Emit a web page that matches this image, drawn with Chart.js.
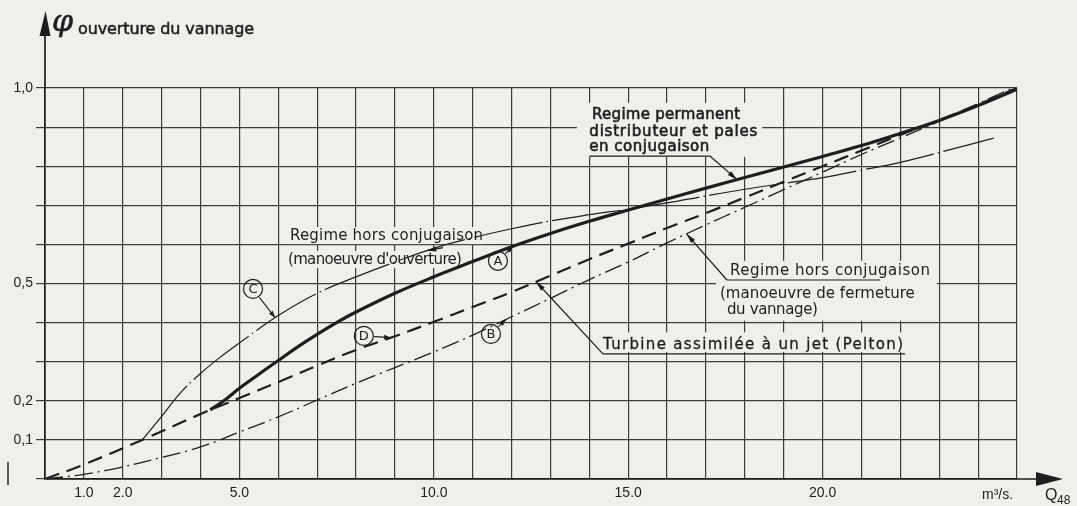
<!DOCTYPE html>
<html>
<head>
<meta charset="utf-8">
<script src="https://cdn.jsdelivr.net/npm/chart.js@4/dist/chart.umd.min.js"></script>
<style>
  html, body { margin: 0; padding: 0; background: #efefec; }
  #wrap { width: 1077px; height: 506px; }
</style>
</head>
<body>
<div id="wrap"><canvas id="c" width="1077" height="506"></canvas></div>
<script>
// Débit Q48 (m³/s) et ouverture du vannage φ pour chaque régime
const qPermanent   = [4.25, 4.6, 5.0, 5.5, 6.0, 6.5, 7.0, 7.5, 8.0, 9.0, 10.0, 11.0, 12.0, 13.0, 14.0, 15.0, 16.0, 17.0, 18.0, 19.0, 20.0, 21.0, 22.0, 23.0, 24.0, 25.0];
const phiPermanent = [0.177, 0.2, 0.232, 0.268, 0.303, 0.338, 0.37, 0.4, 0.427, 0.475, 0.517, 0.556, 0.594, 0.628, 0.659, 0.688, 0.716, 0.744, 0.771, 0.798, 0.825, 0.853, 0.884, 0.917, 0.955, 0.997];

const qOuverture   = [2.5, 3.0, 3.5, 4.0, 4.5, 5.0, 6.0, 7.0, 8.0, 9.0, 10.0, 11.0, 12.0, 13.0, 14.0, 15.0, 16.0, 17.0, 18.0, 19.0, 20.0, 21.0, 22.0, 23.0, 24.4];
const phiOuverture = [0.1, 0.16, 0.222, 0.27, 0.311, 0.348, 0.418, 0.475, 0.517, 0.555, 0.59, 0.617, 0.64, 0.66, 0.676, 0.69, 0.706, 0.724, 0.741, 0.756, 0.771, 0.79, 0.81, 0.835, 0.872];

const qFermeture   = [0, 1, 2, 3, 4, 5, 6, 7, 8, 9, 10, 11, 12, 13, 14, 15, 16, 17, 18, 19, 20, 21, 22, 23, 24, 25];
const phiFermeture = [0, 0.012, 0.031, 0.055, 0.082, 0.12, 0.159, 0.202, 0.245, 0.285, 0.325, 0.368, 0.415, 0.462, 0.51, 0.555, 0.604, 0.65, 0.695, 0.74, 0.785, 0.83, 0.872, 0.915, 0.96, 1.005];

const qPelton   = [0, 1, 2.5, 4, 5, 6, 7, 8, 9, 10, 11, 12, 13, 14, 15, 16, 17, 18, 19, 20, 21, 22, 23, 24, 25];
const phiPelton = [0, 0.037, 0.1, 0.166, 0.207, 0.248, 0.29, 0.33, 0.365, 0.402, 0.44, 0.478, 0.52, 0.562, 0.602, 0.642, 0.68, 0.72, 0.76, 0.8, 0.84, 0.88, 0.918, 0.958, 1.0];

const xTickValues = [1, 2, 5, 10, 15, 20];
const xTickLabels = ['1.0', '2.0', '5.0', '10.0', '15.0', '20.0'];
const yTickValues = [0.1, 0.2, 0.5, 1.0];
const yTickLabels = ['0,1', '0,2', '0,5', '1,0'];

const PAPER = '#efefec';
const INK = '#1e1e1e';
const GRID = '#3c3c3c';
const TXT = "'DejaVu Sans', sans-serif";

function points(xs, ys) { return xs.map((x, i) => ({ x: x, y: ys[i] })); }
function interp(xs, ys, x) {
  for (let i = 0; i < xs.length - 1; i++) {
    if (x >= xs[i] && x <= xs[i + 1]) {
      const t = (x - xs[i]) / (xs[i + 1] - xs[i]);
      return ys[i] + t * (ys[i + 1] - ys[i]);
    }
  }
  return ys[ys.length - 1];
}
function tickLabel(values, labels, v) {
  const i = values.findIndex(t => Math.abs(t - v) < 1e-6);
  return i >= 0 ? labels[i] : '';
}

// Annotation layout, in axis units (Q, φ)
const notes = {
  permanent: { lines: ['Regime permanent', 'distributeur et pales', 'en conjugaison'],
               x: [14.07, 14.0, 14.0], y: [0.921, 0.877, 0.839], w: [148, 168, 120],
               underline: { y: 0.826, x0: 14.0, x1: 17.1 }, tip: 17.8,
               box: [13.68, 0.962, 18.45, 0.824], font: '15px ' + TXT, heavy: 0.6 },
  ouverture: { lines: ['Regime hors conjugaison', "(manoeuvre d'ouverture)"],
               x: [6.3, 6.25], y: [0.611, 0.55], w: [193, 174], font: '15px ' + TXT, heavy: 0 },
  fermeture: { lines: ['Regime hors conjugaison', '(manoeuvre de fermeture', 'du vannage)'],
               x: [17.62, 17.36, 17.54], y: [0.522, 0.463, 0.422], w: [200, 195, 91],
               underline: { y: 0.509, x0: 17.54, x1: 21.48 }, tip: 16.5,
               box: [17.26, 0.558, 22.94, 0.405], font: '15px ' + TXT, heavy: 0 },
  pelton:    { lines: ['Turbine assimilée à un jet (Pelton)'],
               x: [14.35], y: [0.332], w: [300],
               underline: { y: 0.32, x0: 14.35, x1: 22.12 }, tip: 12.63,
               box: [14.25, 0.375, 22.2, 0.325], font: '15px ' + TXT, heavy: 0.3 }
};
const markers = [
  { t: 'A', cx: 11.65, cy: 0.558, q: qPermanent, p: phiPermanent, tip: 12.04 },
  { t: 'B', cx: 11.47, cy: 0.371, q: qFermeture, p: phiFermeture, tip: 11.86 },
  { t: 'C', cx: 5.35,  cy: 0.486, q: qOuverture, p: phiOuverture, tip: 5.92 },
  { t: 'D', cx: 8.2,   cy: 0.366, q: qPelton,    p: phiPelton,    tip: 8.9 }
];

function fitText(ctx, str, x, y, width, heavy) {
  ctx.letterSpacing = '0px';
  const w = ctx.measureText(str).width;
  const n = Array.from(str).length;
  const sp = n > 1 ? (width - w) / (n - 1) : 0;
  ctx.letterSpacing = sp.toFixed(2) + 'px';
  ctx.fillText(str, x, y);
  if (heavy) {
    ctx.lineWidth = heavy;
    ctx.strokeText(str, x, y);
  }
  ctx.letterSpacing = '0px';
}
function arrowHead(ctx, x0, y0, x1, y1, len, half) {
  const a = Math.atan2(y1 - y0, x1 - x0);
  ctx.beginPath();
  ctx.moveTo(x1, y1);
  ctx.lineTo(x1 - len * Math.cos(a) + half * Math.sin(a), y1 - len * Math.sin(a) - half * Math.cos(a));
  ctx.lineTo(x1 - len * Math.cos(a) - half * Math.sin(a), y1 - len * Math.sin(a) + half * Math.cos(a));
  ctx.closePath();
  ctx.fill();
}
function leader(ctx, x0, y0, x1, y1, len, half) {
  ctx.beginPath();
  ctx.moveTo(x0, y0);
  ctx.lineTo(x1, y1);
  ctx.stroke();
  arrowHead(ctx, x0, y0, x1, y1, len, half);
}

const drawing = {
  id: 'drawing',
  beforeDraw(chart) {
    const ctx = chart.ctx;
    ctx.save();
    ctx.fillStyle = PAPER;
    ctx.fillRect(0, 0, chart.width, chart.height);
    ctx.restore();
  },
  beforeDatasetsDraw(chart) {
    // paper showing through the grid behind the lettering
    const ctx = chart.ctx, X = chart.scales.x, Y = chart.scales.y;
    ctx.save();
    ctx.fillStyle = PAPER;
    ['permanent', 'fermeture', 'pelton'].forEach(k => {
      const b = notes[k].box;
      const x0 = X.getPixelForValue(b[0]), y0 = Y.getPixelForValue(b[1]);
      const x1 = X.getPixelForValue(b[2]), y1 = Y.getPixelForValue(b[3]);
      ctx.fillRect(x0, y0, x1 - x0, y1 - y0);
    });
    const o = notes.ouverture;
    o.lines.forEach((s, i) => {
      const x = X.getPixelForValue(o.x[i]), y = Y.getPixelForValue(o.y[i]);
      ctx.fillRect(x - 3, y - 13, o.w[i] + 6, 17);
    });
    ctx.restore();
  },
  afterDraw(chart) {
    const ctx = chart.ctx, X = chart.scales.x, Y = chart.scales.y;
    const ca = chart.chartArea;
    const px = v => X.getPixelForValue(v), py = v => Y.getPixelForValue(v);
    ctx.save();
    ctx.strokeStyle = INK;
    ctx.fillStyle = INK;
    ctx.lineWidth = 1.7;

    // axis extensions with arrowheads
    ctx.beginPath();
    ctx.moveTo(ca.left, ca.top);
    ctx.lineTo(ca.left, 34);
    ctx.moveTo(ca.right, ca.bottom);
    ctx.lineTo(ca.right + 20, ca.bottom);
    ctx.stroke();
    ctx.beginPath();
    ctx.moveTo(ca.left - 5.5, 36);
    ctx.lineTo(ca.left + 5.5, 36);
    ctx.lineTo(ca.left + 0.5, 11);
    ctx.closePath();
    ctx.fill();
    ctx.beginPath();
    ctx.moveTo(ca.right + 19, ca.bottom - 7);
    ctx.lineTo(ca.right + 19, ca.bottom + 7);
    ctx.lineTo(ca.right + 46, ca.bottom);
    ctx.closePath();
    ctx.fill();

    // small stroke left of the origin
    ctx.lineWidth = 1.4;
    ctx.beginPath();
    ctx.moveTo(8, 462);
    ctx.lineTo(8, 485);
    ctx.stroke();

    // axis titles
    ctx.textBaseline = 'alphabetic';
    ctx.textAlign = 'left';
    ctx.font = "italic 30px 'DejaVu Serif', serif";
    ctx.fillText('φ', ca.left + 7, 31);
    ctx.lineWidth = 0.6;
    ctx.strokeText('φ', ca.left + 7, 31);
    ctx.font = '16px ' + TXT;
    fitText(ctx, 'ouverture du vannage', ca.left + 33, 34, 176, 0.5);
    ctx.font = "14px 'Liberation Sans', sans-serif";
    ctx.fillText('m³/s.', ca.right - 35, ca.bottom + 20);
    ctx.font = "16px 'Liberation Sans', sans-serif";
    ctx.fillText('Q', ca.right + 28, ca.bottom + 21);
    ctx.font = "12px 'Liberation Sans', sans-serif";
    ctx.fillText('48', ca.right + 40, ca.bottom + 25);

    // text blocks
    Object.keys(notes).forEach(k => {
      const n = notes[k];
      ctx.font = n.font;
      n.lines.forEach((s, i) => fitText(ctx, s, px(n.x[i]), py(n.y[i]), n.w[i], n.heavy));
    });

    // underlines and leaders
    ctx.lineWidth = 1.2;
    const leaders = [
      { n: notes.permanent, q: qPermanent, p: phiPermanent, fromEnd: true },
      { n: notes.fermeture, q: qFermeture, p: phiFermeture, fromEnd: false },
      { n: notes.pelton,    q: qPelton,    p: phiPelton,    fromEnd: false }
    ];
    leaders.forEach(l => {
      const u = l.n.underline;
      const ux0 = px(u.x0), ux1 = px(u.x1), uy = py(u.y);
      ctx.beginPath();
      ctx.moveTo(ux0, uy);
      ctx.lineTo(ux1, uy);
      ctx.stroke();
      const sx = l.fromEnd ? ux1 : ux0;
      const tx = px(l.n.tip), ty = py(interp(l.q, l.p, l.n.tip));
      leader(ctx, sx, uy, tx, ty, 10, 2.6);
    });
    // pointer onto the opening curve
    {
      const tq = 9.83;
      const tx = px(tq), ty = py(interp(qOuverture, phiOuverture, tq));
      leader(ctx, tx + 16, ty - 3, tx, ty, 9, 2.6);
    }

    // circled letters
    markers.forEach(m => {
      const cx = px(m.cx), cy = py(m.cy), r = 9.5;
      ctx.lineWidth = 1.2;
      ctx.beginPath();
      ctx.arc(cx, cy, r, 0, Math.PI * 2);
      ctx.stroke();
      ctx.font = '13px ' + TXT;
      ctx.textAlign = 'center';
      ctx.textBaseline = 'middle';
      ctx.fillText(m.t, cx, cy + 0.5);
      const tx = px(m.tip), ty = py(interp(m.q, m.p, m.tip));
      const a = Math.atan2(ty - cy, tx - cx);
      leader(ctx, cx + (r + 1) * Math.cos(a), cy + (r + 1) * Math.sin(a), tx, ty, 7, 2.4);
    });
    ctx.restore();
  }
};

new Chart(document.getElementById('c'), {
  type: 'line',
  data: {
    datasets: [
      { label: 'Regime permanent', data: points(qPermanent, phiPermanent),
        borderColor: INK, borderWidth: 3.2, tension: 0.4 },
      { label: "Regime hors conjugaison (manoeuvre d'ouverture)", data: points(qOuverture, phiOuverture),
        borderColor: INK, borderWidth: 1.2, borderDash: [70, 4, 1.5, 4], tension: 0.4 },
      { label: 'Regime hors conjugaison (manoeuvre de fermeture du vannage)', data: points(qFermeture, phiFermeture),
        borderColor: INK, borderWidth: 1.3, borderDash: [18, 5, 2, 5], tension: 0.4 },
      { label: 'Turbine assimilée à un jet (Pelton)', data: points(qPelton, phiPelton),
        borderColor: INK, borderWidth: 2.2, borderDash: [15, 8], tension: 0.4 }
    ]
  },
  options: {
    responsive: false,
    animation: false,
    devicePixelRatio: 1,
    elements: { point: { radius: 0 }, line: { fill: false, borderCapStyle: 'butt' } },
    layout: { padding: { top: 88, right: 60, bottom: 0, left: 0 } },
    plugins: { legend: { display: false }, tooltip: { enabled: false } },
    scales: {
      x: {
        type: 'linear', min: 0, max: 25,
        ticks: {
          stepSize: 1, autoSkip: false, maxRotation: 0, padding: 6,
          color: INK, font: { family: "'Liberation Sans', sans-serif", size: 14 },
          callback: v => tickLabel(xTickValues, xTickLabels, v)
        },
        grid: { color: GRID, lineWidth: 1.2, drawTicks: false },
        border: { color: INK, width: 1.7 },
        afterFit: s => { s.height = 27; }
      },
      y: {
        type: 'linear', min: 0, max: 1.0,
        ticks: {
          stepSize: 0.1, autoSkip: false, padding: 3,
          color: INK, font: { family: "'Liberation Sans', sans-serif", size: 14 },
          callback: v => tickLabel(yTickValues, yTickLabels, v)
        },
        grid: { color: GRID, lineWidth: 1.2, drawTicks: true, tickLength: 9 },
        border: { color: INK, width: 1.7 },
        afterFit: s => { s.width = 45; }
      }
    }
  },
  plugins: [drawing]
});
</script>
</body>
</html>
